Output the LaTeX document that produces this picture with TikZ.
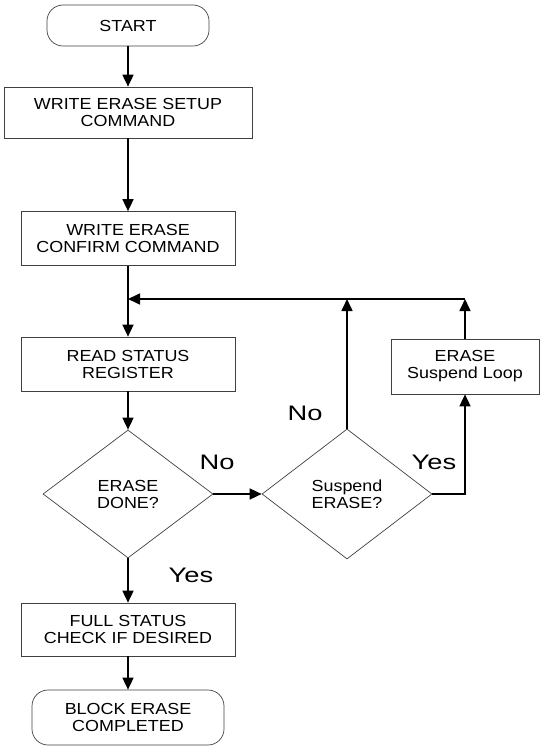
\documentclass[tikz,border=0pt]{standalone}
\usepackage{fontspec}
\setmainfont{Liberation Sans}[FakeStretch=1.12]
\newfontfamily\lblfont{Liberation Sans}[FakeStretch=1.3]
\usetikzlibrary{shapes.geometric,arrows.meta}

\tikzset{
  box/.style={draw=black!75, line width=0.7pt, align=center, inner sep=0pt,
    font=\fontsize{16}{17}\selectfont},
  procbox/.style={box, minimum width=214pt, minimum height=54pt},
  termbox/.style={box, rounded corners=16pt},
  decision/.style={box, diamond, aspect=1.33, minimum width=170pt, minimum height=128pt},
  conn/.style={line width=1.6pt},
  flow/.style={conn, -{Triangle[length=12pt,width=11pt]}},
  lbl/.style={font=\lblfont\fontsize{21}{22}\selectfont, inner sep=0pt}
}

\begin{document}
\begin{tikzpicture}[x=1pt,y=-1pt]
                \useasboundingbox (0,0) rectangle (539,746);

                \node[termbox, minimum width=162pt, minimum height=41pt] (start) at (128,25.5) {START};
                \node[box, minimum width=248pt, minimum height=51pt] (setup) at (128,112.5) {WRITE ERASE SETUP\\COMMAND};
                \node[procbox] (confirm) at (128,238.5) {WRITE ERASE\\CONFIRM COMMAND};
                \node[procbox] (readsr) at (128,364) {READ STATUS\\REGISTER};
                \node[decision] (done) at (128,494) {ERASE\\DONE?};
                \node[decision, minimum height=130pt] (susp) at (347,494) {Suspend\\ERASE?};
                \node[box, minimum width=148pt, minimum height=55pt] (loop) at (465,366.5) {ERASE\\Suspend Loop};
                \node[procbox, minimum height=53pt] (fullchk) at (128,629.5) {FULL STATUS\\CHECK IF DESIRED};
                \node[termbox, minimum width=192pt, minimum height=55pt] (blockdone) at (128,717.5) {BLOCK ERASE\\COMPLETED};

                \coordinate (join) at (128,299);

                \node[lbl] (no1) at (217,462) {No};
                \node[lbl] (no2) at (305,413) {No};
                \node[lbl] (yes1) at (191,575) {Yes};
                \node[lbl] (yes2) at (434,462) {Yes};

                \draw[flow] (start) -- (setup);
                \draw[flow] (setup) -- (confirm);
                \draw[flow] (confirm) -- (readsr);
                \draw[flow] (readsr) -- (done);
                \draw[flow] (done) -- (fullchk);
                \draw[flow] (fullchk) -- (blockdone);

                \draw[flow] (done) -- (susp);
                \draw[flow] (susp) -- (susp.north |- join);
                \draw[flow] (susp.east) -| (loop.south);
                \draw[flow] (loop) -- (loop.north |- join);
                \draw[flow] (loop.north |- join) -- (join);
            \end{tikzpicture}
\end{document}
